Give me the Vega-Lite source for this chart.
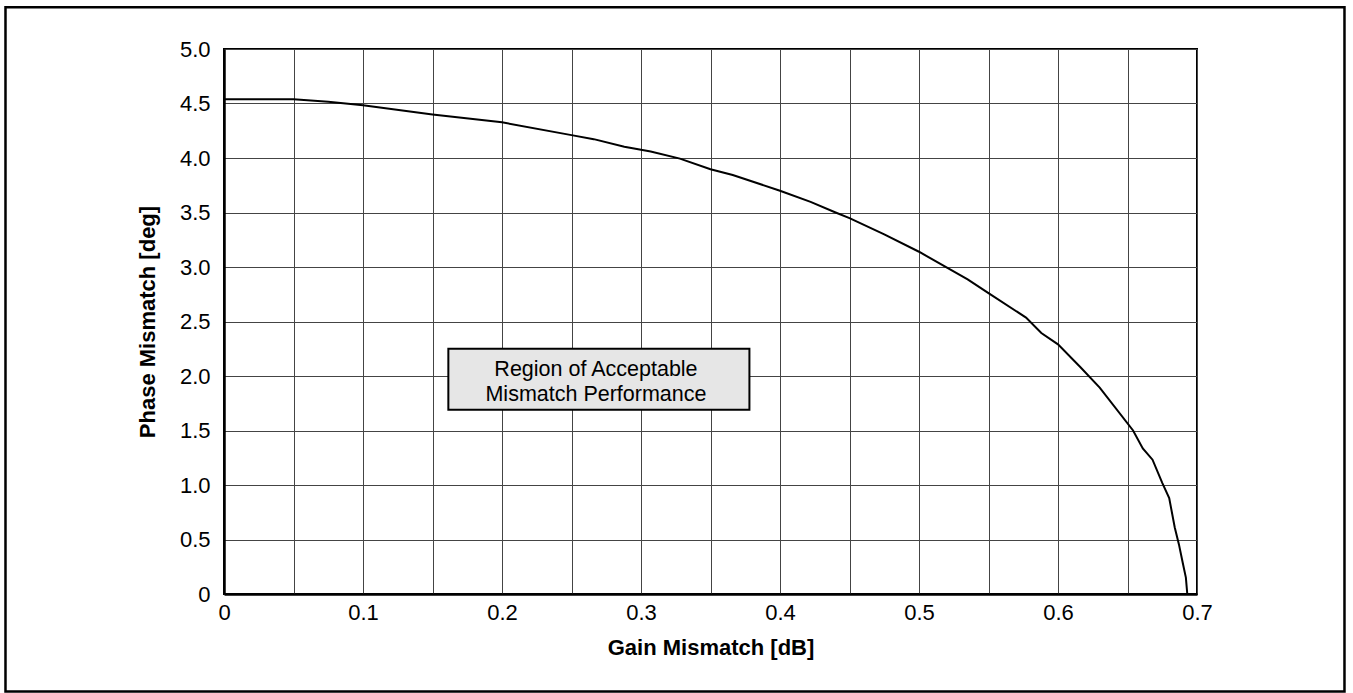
{
  "$schema": "https://vega.github.io/schema/vega-lite/v6.json",
  "width": 973,
  "height": 545,
  "autosize": {"type": "none"},
  "padding": {"left": 224, "top": 49, "right": 156, "bottom": 99},
  "background": "white",
  "config": {
    "view": {"stroke": "black", "strokeWidth": 2},
    "font": "Liberation Sans"
  },
  "datasets": {
    "curve": [
      {"gain": 0, "phase": 4.54},
      {"gain": 0.05, "phase": 4.54},
      {"gain": 0.075, "phase": 4.515},
      {"gain": 0.1, "phase": 4.485},
      {"gain": 0.15, "phase": 4.4},
      {"gain": 0.2, "phase": 4.327},
      {"gain": 0.25, "phase": 4.21},
      {"gain": 0.266, "phase": 4.173},
      {"gain": 0.288, "phase": 4.103},
      {"gain": 0.3, "phase": 4.075},
      {"gain": 0.307, "phase": 4.06},
      {"gain": 0.328, "phase": 3.994},
      {"gain": 0.35, "phase": 3.897},
      {"gain": 0.366, "phase": 3.844},
      {"gain": 0.4, "phase": 3.7},
      {"gain": 0.422, "phase": 3.597},
      {"gain": 0.44, "phase": 3.5},
      {"gain": 0.45, "phase": 3.448},
      {"gain": 0.475, "phase": 3.3},
      {"gain": 0.5, "phase": 3.14},
      {"gain": 0.535, "phase": 2.887},
      {"gain": 0.55, "phase": 2.76},
      {"gain": 0.577, "phase": 2.536},
      {"gain": 0.588, "phase": 2.394},
      {"gain": 0.6, "phase": 2.29},
      {"gain": 0.616, "phase": 2.083},
      {"gain": 0.63, "phase": 1.894},
      {"gain": 0.654, "phase": 1.5},
      {"gain": 0.661, "phase": 1.336},
      {"gain": 0.668, "phase": 1.232},
      {"gain": 0.675, "phase": 1.02},
      {"gain": 0.68, "phase": 0.88},
      {"gain": 0.684, "phase": 0.61},
      {"gain": 0.687, "phase": 0.455},
      {"gain": 0.69, "phase": 0.27},
      {"gain": 0.692, "phase": 0.15},
      {"gain": 0.693, "phase": 0}
    ],
    "frame": [
      {"x0": -0.1572, "x1": 0.8061, "y0": -0.895, "y1": 5.383}
    ],
    "note": [
      {"x0": 0.1614, "x1": 0.378, "y0": 1.69, "y1": 2.25, "xc": 0.2676, "yc": 2.053, "label": "Region of Acceptable\nMismatch Performance"}
    ]
  },
  "layer": [
    {
      "data": {"name": "frame"},
      "mark": {"type": "rect", "clip": false, "filled": false, "stroke": "black", "strokeWidth": 2.5},
      "encoding": {
        "x": {"field": "x0", "type": "quantitative", "scale": {"domain": [0, 0.7], "nice": false, "zero": false}},
        "x2": {"field": "x1"},
        "y": {"field": "y0", "type": "quantitative", "scale": {"domain": [0, 5], "nice": false, "zero": false}},
        "y2": {"field": "y1"}
      }
    },
    {
      "data": {"name": "curve"},
      "mark": {"type": "line", "color": "black", "strokeWidth": 2},
      "encoding": {
        "x": {
          "field": "gain", "type": "quantitative",
          "scale": {"domain": [0, 0.7], "nice": false, "zero": false},
          "axis": {
            "title": "Gain Mismatch [dB]",
            "values": [0, 0.05, 0.1, 0.15, 0.2, 0.25, 0.3, 0.35, 0.4, 0.45, 0.5, 0.55, 0.6, 0.65, 0.7],
            "labelExpr": "datum.value == 0 ? '0' : (abs(round(datum.value*20) % 2) == 0 ? format(datum.value, '.1f') : '')",
            "grid": true, "gridColor": "#444", "gridWidth": 1,
            "ticks": false, "domainColor": "black", "domainWidth": 2.5,
            "labelFontSize": 22, "labelFont": "Liberation Sans", "labelColor": "black",
            "labelPadding": 8, "labelOverlap": false, "labelFlush": false,
            "titleFontSize": 22, "titleFont": "Liberation Sans", "titleFontWeight": "bold",
            "titleColor": "black", "titlePadding": 14
          }
        },
        "y": {
          "field": "phase", "type": "quantitative",
          "scale": {"domain": [0, 5], "nice": false, "zero": false},
          "axis": {
            "title": "Phase Mismatch [deg]",
            "values": [0, 0.5, 1, 1.5, 2, 2.5, 3, 3.5, 4, 4.5, 5],
            "labelExpr": "datum.value == 0 ? '0' : format(datum.value, '.1f')",
            "grid": true, "gridColor": "#444", "gridWidth": 1,
            "ticks": false, "domainColor": "black", "domainWidth": 2.5,
            "labelFontSize": 22, "labelFont": "Liberation Sans", "labelColor": "black",
            "labelPadding": 14, "labelOverlap": false, "labelFlush": false,
            "titleFontSize": 22, "titleFont": "Liberation Sans", "titleFontWeight": "bold",
            "titleColor": "black", "titlePadding": 20
          }
        }
      }
    },
    {
      "data": {"name": "note"},
      "mark": {"type": "rect", "fill": "#e6e6e6", "stroke": "black", "strokeWidth": 2},
      "encoding": {
        "x": {"field": "x0", "type": "quantitative"},
        "x2": {"field": "x1"},
        "y": {"field": "y0", "type": "quantitative"},
        "y2": {"field": "y1"}
      }
    },
    {
      "data": {"name": "note"},
      "mark": {"type": "text", "align": "center", "baseline": "middle", "lineBreak": "\n", "lineHeight": 25, "fontSize": 21.5, "font": "Liberation Sans", "color": "black"},
      "encoding": {
        "x": {"field": "xc", "type": "quantitative"},
        "y": {"field": "yc", "type": "quantitative"},
        "text": {"field": "label"}
      }
    }
  ]
}
